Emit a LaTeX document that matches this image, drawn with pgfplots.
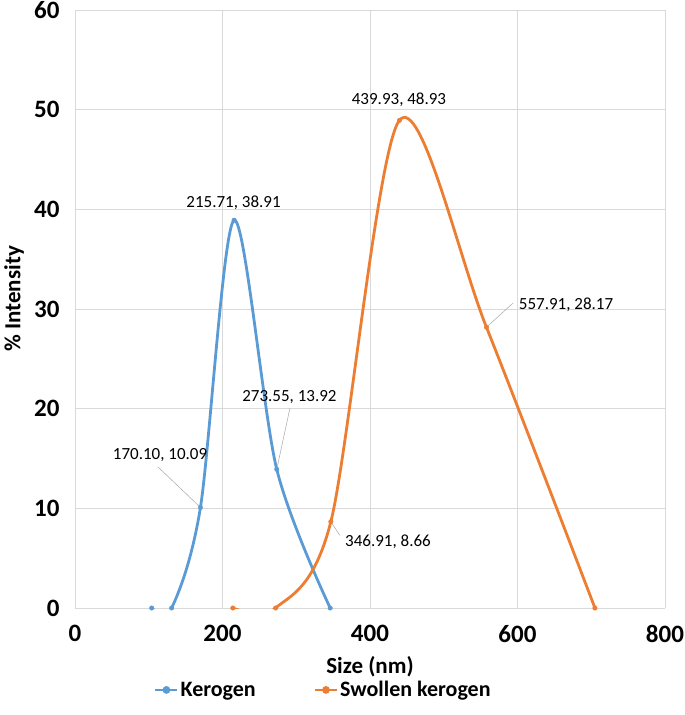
\documentclass[border=0pt]{standalone}
\usepackage{pgfplots}
\pgfplotsset{compat=1.18}
\usepackage{fontspec}
\setmainfont{Carlito}
\definecolor{kblue}{HTML}{5B9BD5}
\definecolor{korange}{HTML}{ED7D31}
\definecolor{gridgray}{HTML}{D9D9D9}
\begin{document}
\begin{tikzpicture}
\useasboundingbox (-75pt,-107pt) rectangle (610pt,608pt);
\begin{axis}[
  scale only axis,
  width=590pt, height=598pt,
  xmin=0, xmax=800, ymin=0, ymax=60,
  xtick={0,200,...,800}, ytick={0,10,...,60},
  grid=major,
  major grid style={gridgray, line width=0.8pt},
  axis line style={draw=none},
  axis x line*=bottom,
  x axis line style={draw=gridgray, line width=1pt},
  tick style={draw=none},
  ticklabel style={font=\fontsize{25}{28}\selectfont\bfseries},
  /pgf/number format/assume math mode=true,
  xticklabel style={yshift=-14pt},
  yticklabel style={xshift=-12pt},
  xlabel={\fontsize{23}{26}\selectfont\bfseries Size (nm)},
  ylabel={\fontsize{23}{26}\selectfont\bfseries \% Intensity},
  xlabel style={at={(axis description cs:0.5,0)}, anchor=center, yshift=-59pt},
  ylabel style={at={(axis description cs:-0.1034,0.517)}, anchor=center, rotate=0},
  legend style={at={(0.421,-0.137)}, anchor=center, draw=none, fill=none,
    font=\fontsize{22}{25}\selectfont\bfseries, inner sep=0pt,
    /tikz/every even column/.append style={column sep=56pt}},
  legend cell align=left,
  legend columns=2,
  legend image code/.code={\draw[#1, line width=2.4pt] (0pt,0pt) -- (22pt,0pt); \fill[#1] (11pt,0pt) circle (2.4pt);},
  clip=true,
]
\addplot[kblue, line width=2.8pt, smooth, tension=0.5, mark=*, mark size=2.3pt, mark options={solid, line width=0.3pt}] coordinates {
 (104,0) (131,0) (170.10,10.09) (215.71,38.91) (273.55,13.92) (346,0)
};
\addlegendentry{Kerogen}
\addplot[korange, line width=2.8pt, smooth, tension=0.5, mark=*, mark size=2.3pt, mark options={solid, line width=0.3pt}] coordinates {
 (214,0) (272,0) (346.91,8.66) (439.93,48.93) (557.91,28.17) (705,0)
};
\addlegendentry{Swollen kerogen}
% data labels
\draw[gray!60, line width=0.6pt] (axis cs:112.5,14.15) -- (axis cs:170.10,10.09);
\draw[gray!60, line width=0.6pt] (axis cs:291.5,20.07) -- (axis cs:273.55,13.92);
\draw[gray!60, line width=0.6pt] (axis cs:359,7.3) -- (axis cs:346.91,8.66);
\draw[gray!60, line width=0.6pt] (axis cs:594,30.6) -- (axis cs:557.91,28.17);
\begin{scope}[every node/.style={font=\fontsize{17}{19}\selectfont, inner sep=1pt}]
\node at (axis cs:115.3,15.35) {170.10, 10.09};
\node at (axis cs:290.8,21.17) {273.55, 13.92};
\node at (axis cs:424.4,6.62) {346.91, 8.66};
\node at (axis cs:665.8,30.4) {557.91, 28.17};
\node at (axis cs:215,40.64) {215.71, 38.91};
\node at (axis cs:439.3,50.97) {439.93, 48.93};
\end{scope}
\end{axis}
\end{tikzpicture}
\end{document}
